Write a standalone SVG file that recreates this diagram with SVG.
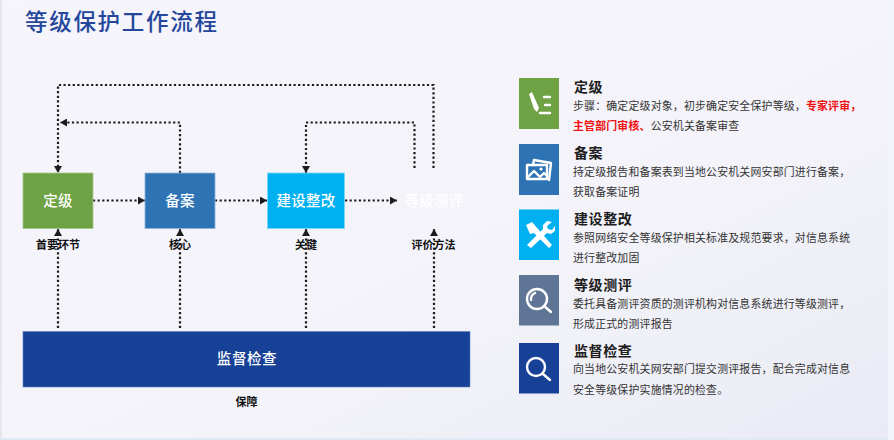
<svg xmlns="http://www.w3.org/2000/svg" width="894" height="440" viewBox="0 0 894 440">
<style>
text{font-family:"Noto Sans CJK SC","Noto Sans CJK JP",sans-serif}
.title{font-size:22.5px;font-weight:500;fill:#24479c;letter-spacing:1.7px}
.box{font-size:14.5px;font-weight:500;fill:#fff;text-anchor:middle;letter-spacing:.3px}
.lab{font-size:11px;font-weight:700;fill:#111;text-anchor:middle}
.h{font-size:14px;font-weight:700;fill:#1d1d1d;letter-spacing:.6px}
.d{font-size:10.9px;fill:#333;letter-spacing:.2px}
.r{fill:#f01010;font-weight:700}
.c{fill:none;stroke:#1c1c1c;stroke-width:2.2;stroke-dasharray:2.2 2.4}
.i{fill:none;stroke:#fff;stroke-width:2.4;stroke-linecap:round;stroke-linejoin:round}
</style>
<defs>
<linearGradient id="bg" x1="0" y1="0" x2="1" y2="1"><stop offset="0" stop-color="#f5f5fb"/><stop offset=".6" stop-color="#f3f3f9"/><stop offset="1" stop-color="#e9eaf4"/></linearGradient>
<marker id="a" markerUnits="userSpaceOnUse" markerWidth="8" markerHeight="8" refX="7" refY="4" orient="auto"><path d="M0 0L7 4L0 8Z" fill="#1c1c1c"/></marker>
</defs>
<rect width="894" height="440" fill="url(#bg)"/>
<rect x="0" y="0" width="1.500" height="440" fill="#e2e3e8"/>
<rect x="0" y="438" width="894" height="2" fill="#dfe9f4"/>
<rect x="888" y="0" width="6" height="440" fill="#f4f5fa"/>
<text class="title" x="25" y="30">等级保护工作流程</text>
<g id="connectors">
<path class="c" d="M433.500 168V85H58V173" marker-end="url(#a)"/>
<path class="c" d="M180 173V122.500H60" marker-end="url(#a)"/>
<path class="c" d="M414.500 168V122.500H306V173" marker-end="url(#a)"/>
<path class="c" d="M93 200.500H145" marker-end="url(#a)"/>
<path class="c" d="M215 200.500H267" marker-end="url(#a)"/>
<path class="c" d="M345 200.500H397" marker-end="url(#a)"/>
<path class="c" d="M58 328V229" marker-end="url(#a)"/>
<path class="c" d="M180 328V229" marker-end="url(#a)"/>
<path class="c" d="M306 328V229" marker-end="url(#a)"/>
<path class="c" d="M434 328V229" marker-end="url(#a)"/>
</g>
<g id="node-dingji"><rect x="23" y="173" width="70" height="55.500" fill="#6ea244" stroke="#a9c78f" stroke-width=".8"/><text class="box" x="58" y="205.500">定级</text></g>
<g id="node-beian"><rect x="145" y="173" width="70" height="55.500" fill="#2e74b5" stroke="#8fb4d9" stroke-width=".8"/><text class="box" x="180" y="205.500">备案</text></g>
<g id="node-jianshe"><rect x="267.500" y="173" width="77" height="55.500" fill="#00b0f0" stroke="#7fd6f6" stroke-width=".8"/><text class="box" x="306" y="205.500">建设整改</text></g>
<g id="node-ceping"><text class="box" x="434" y="205.500">等级测评</text></g>
<g id="node-jiandu"><rect x="23" y="331.500" width="447" height="55.500" fill="#174097" stroke="#5f7fbd" stroke-width=".6"/><text class="box" x="247" y="364" style="letter-spacing:.6px">监督检查</text></g>
<text class="lab" x="58" y="249">首要环节</text>
<text class="lab" x="180" y="249">核心</text>
<text class="lab" x="306" y="249">关键</text>
<text class="lab" x="433.500" y="249">评价方法</text>
<text class="lab" x="246.500" y="406">保障</text>
<g id="legend-dingji"><rect x="519" y="78" width="40" height="51" fill="#6ea244"/><path d="M529 94L532 92L539 108L537 112L534 109Z" fill="#fff"/><path class="i" d="M544 97H550M545 105H550M540 113H550" stroke-width="1.500"/>
<text class="h" x="574" y="92">定级</text>
<text class="d" x="573" y="110">步骤：确定定级对象，初步确定安全保护等级，<tspan class="r">专家评审，</tspan></text>
<text class="d" x="573" y="130"><tspan class="r">主管部门审核、</tspan>公安机关备案审查</text></g>
<g id="legend-beian"><rect x="519" y="144" width="40" height="51" fill="#2e74b5"/><path class="i" d="M533 165L534 160L551 163L549 180" stroke-width="1.800"/><rect class="i" x="527" y="165" width="20" height="14"/><path class="i" d="M528 177L534 171L540 177L544 173L547 176" stroke-width="1.600"/><circle cx="541" cy="169" r="1.600" fill="#fff"/>
<text class="h" x="574" y="158">备案</text>
<text class="d" x="573" y="176">持定级报告和备案表到当地公安机关网安部门进行备案，</text>
<text class="d" x="573" y="196">获取备案证明</text></g>
<g id="legend-jianshe"><rect x="519" y="209.500" width="40" height="50.500" fill="#00b0f0"/><path d="M526 225L532 222L538 229L552 245L549 248L534 233L530 234Z" fill="#fff"/><path d="M552 222L547 226L548 229L552 230L555 226L555 231L551 234L547 233L531 248L527 245L543 229L543 225L547 221Z" fill="#fff"/>
<text class="h" x="574" y="224">建设整改</text>
<text class="d" x="573" y="242">参照网络安全等级保护相关标准及规范要求，对信息系统</text>
<text class="d" x="573" y="262">进行整改加固</text></g>
<g id="legend-ceping"><rect x="519" y="275" width="40" height="50.500" fill="#5f7596"/><circle class="i" cx="537" cy="299" r="10" stroke-width="1.800"/><path class="i" d="M544 306L551 312" stroke-width="2"/><path class="i" d="M531 300A7 7 0 0 1 535 293" stroke-width="1"/>
<text class="h" x="574" y="290">等级测评</text>
<text class="d" x="573" y="308">委托具备测评资质的测评机构对信息系统进行等级测评，</text>
<text class="d" x="573" y="328">形成正式的测评报告</text></g>
<g id="legend-jiandu"><rect x="519" y="343" width="40" height="50.500" fill="#174097"/><circle class="i" cx="536" cy="367" r="9" stroke-width="2.600"/><path class="i" d="M543 374L550 380" stroke-width="3"/>
<text class="h" x="574" y="356">监督检查</text>
<text class="d" x="573" y="373">向当地公安机关网安部门提交测评报告，配合完成对信息</text>
<text class="d" x="573" y="394">安全等级保护实施情况的检查。</text></g>
</svg>
